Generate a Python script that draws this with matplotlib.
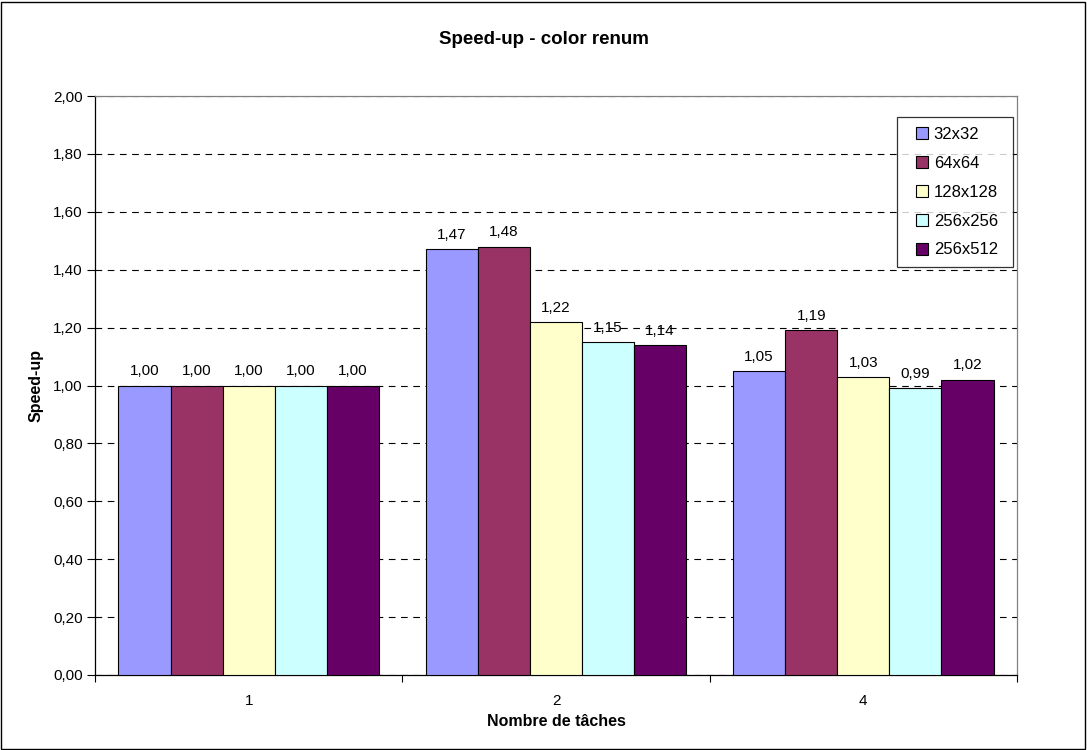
import numpy as np
import matplotlib
matplotlib.use("Agg")
import matplotlib.pyplot as plt
from matplotlib.ticker import FuncFormatter, FixedLocator
from matplotlib.patches import Rectangle
from matplotlib.lines import Line2D

plt.rcParams['font.family'] = ['Liberation Sans', 'DejaVu Sans']

categories = ['1', '2', '4']
series = ['32x32', '64x64', '128x128', '256x256', '256x512']
values = {
    '32x32':   [1.00, 1.47, 1.05],
    '64x64':   [1.00, 1.48, 1.19],
    '128x128': [1.00, 1.22, 1.03],
    '256x256': [1.00, 1.15, 0.99],
    '256x512': [1.00, 1.14, 1.02],
}
colors = ['#9999FF', '#993366', '#FFFFCC', '#CCFFFF', '#660066']


def comma(v, pos=None):
    return f"{v:.2f}".replace('.', ',')


fig = plt.figure(figsize=(10.87, 7.5), dpi=100)
ax = fig.add_axes([0.0874, 0.1, 0.8482, 0.772])

n = len(series)
gap = 0.9
bw = 1.0 / (n + gap)
x = np.arange(len(categories))

for i, (name, col) in enumerate(zip(series, colors)):
    pos = x + (i - (n - 1) / 2) * bw
    bars = ax.bar(pos, values[name], width=bw, color=col, edgecolor='black',
                  linewidth=0.8, label=name, zorder=3)
    for b, v in zip(bars, values[name]):
        ax.text(b.get_x() + b.get_width() / 2, v + 0.025, comma(v),
                ha='center', va='bottom', fontsize=11, zorder=4)

ax.set_xlim(-0.5, len(categories) - 0.5)
ax.set_ylim(0, 2.0)
ax.yaxis.set_major_locator(FixedLocator(np.arange(0, 2.01, 0.2)))
ax.yaxis.set_major_formatter(FuncFormatter(comma))
ax.yaxis.grid(True, linestyle=(0, (6, 5)), color='black', linewidth=0.8, zorder=0)

# category labels centred, ticks at boundaries
ax.set_xticks(x)
ax.set_xticklabels(categories)
ax.tick_params(axis='x', length=0, pad=14, labelsize=11)
ax.set_xticks(np.arange(-0.5, len(categories)), minor=True)
ax.tick_params(axis='x', which='minor', length=5, direction='out', width=0.8)
ax.tick_params(axis='y', length=6, direction='out', width=0.8, labelsize=11, pad=3)

for s in ['top', 'right']:
    ax.spines[s].set_color('#808080')
for s in ['left', 'bottom']:
    ax.spines[s].set_color('black')
for s in ax.spines.values():
    s.set_linewidth(0.9)

fig.text(0.5, 1 - 40 / 750, 'Speed-up - color renum', fontsize=13.5,
         fontweight='bold', ha='center', va='center')
fig.text(0.5 * (0.0874 + 0.9356), 1 - 721 / 750, 'Nombre de tâches', fontsize=11.5,
         fontweight='bold', ha='center', va='center')
fig.text(36 / 1087, 1 - 385 / 750, 'Speed-up', fontsize=11.5, fontweight='bold',
         ha='center', va='center', rotation=90)

handles = [Line2D([], [], linestyle='none', marker='s', markersize=8.6,
                  markerfacecolor=c, markeredgecolor='black', markeredgewidth=0.8)
           for c in colors]
leg = ax.legend(handles, series, loc='upper left',
                bbox_to_anchor=(0.870, 0.9637 - 0.25, 0.126, 0.25), mode='expand',
                fontsize=12, frameon=True, fancybox=False, handlelength=1.8,
                handletextpad=-0.2, labelspacing=0.83, borderpad=0.6,
                borderaxespad=0)
leg.get_frame().set_edgecolor('black')
leg.get_frame().set_linewidth(0.9)

fig.patches.append(Rectangle((0.001, 0.001), 0.997, 0.997, transform=fig.transFigure,
                             fill=False, edgecolor='black', linewidth=1.0))

fig.savefig('out.png', dpi=100)
